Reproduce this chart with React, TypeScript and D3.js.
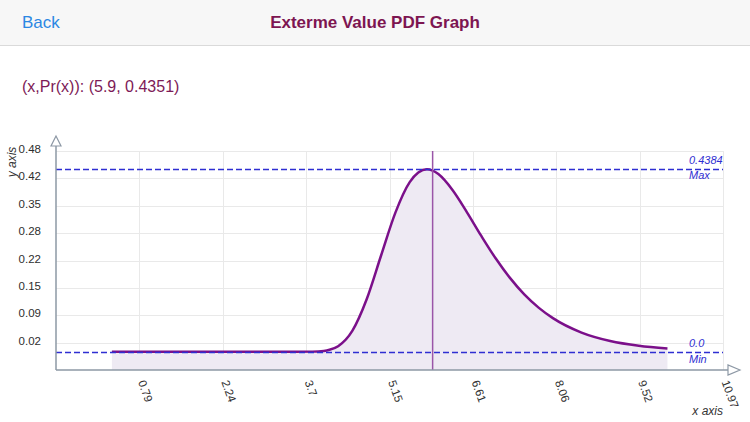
import React from "react";
import * as d3 from "d3";

// ---- data ----
const curveX = [0.3, 1.0, 2.0, 3.0, 3.5, 3.8, 4.0, 4.1, 4.25, 4.5, 4.75, 5.0, 5.25, 5.5, 5.65, 5.8, 5.9, 6.0, 6.25, 6.5, 6.75, 7.0, 7.25, 7.5, 7.75, 8.0, 8.5, 9.0, 9.5, 10.0];
const curveY = [0, 0, 0, 0, 0, 0.0003, 0.002, 0.0047, 0.0134, 0.0508, 0.1268, 0.2312, 0.3343, 0.4075, 0.4306, 0.4384, 0.4351, 0.4267, 0.388, 0.335, 0.2782, 0.2245, 0.1774, 0.1378, 0.106, 0.0807, 0.046, 0.0258, 0.0144, 0.008];

const xTickLabels = ["0.79", "2.24", "3.7", "5.15", "6.61", "8.06", "9.52", "10.97"];
const xTickValues = [0.78, 2.235, 3.69, 5.147, 6.603, 8.059, 9.514, 10.97];
const yTickLabels = ["0.02", "0.09", "0.15", "0.22", "0.28", "0.35", "0.42", "0.48"];
const yTickValues = [0.0219, 0.0877, 0.1535, 0.2192, 0.285, 0.3507, 0.4165, 0.4822];

const xDomain = [-0.676, 10.97];
const yDomain = [-0.04384, 0.48224];

const cursorX = 5.9;
const cursorY = 0.4351;
const maxValue = 0.4384;
const minValue = 0.0;
const maxLabel = "0.4384";
const minLabel = "0.0";

const title = "Exterme Value PDF Graph";
const backLabel = "Back";

// ---- layout ----
const W = 750;
const H = 422;
const L = 56, R = 723, T = 151, B = 370;
const FONT = "'Liberation Sans', Arial, Helvetica, sans-serif";
const AXIS = "#8d98a5";
const GRID = "#e9e9e9";
const DASH = "#2f2fd2";
const crisp = (v: number) => Math.round(v) + 0.5;

export default function App() {
  const x = d3.scaleLinear().domain(xDomain).range([L, R]);
  const y = d3.scaleLinear().domain(yDomain).range([B, T]);
  const pts: [number, number][] = curveX.map((v, i) => [v, curveY[i]]);

  const line = d3
    .line<[number, number]>()
    .x((d) => x(d[0]))
    .y((d) => y(d[1]))
    .curve(d3.curveMonotoneX);
  const area = d3
    .area<[number, number]>()
    .x((d) => x(d[0]))
    .y0(B)
    .y1((d) => y(d[1]))
    .curve(d3.curveMonotoneX);

  const yMax = crisp(y(maxValue));
  const yMin = crisp(y(minValue));
  const cx = x(cursorX);

  return (
    <svg
      width={W}
      height={H}
      style={{ position: "absolute", left: 0, top: 0, background: "#fff" }}
      fontFamily={FONT}
    >
      {/* header */}
      <rect x={0} y={0} width={W} height={45} fill="#f7f7f7" />
      <line x1={0} x2={W} y1={45.5} y2={45.5} stroke="#dadada" />
      <text x={22} y={28} fontSize={17} fill="#2b87e3">{backLabel}</text>
      <text x={W / 2} y={28} fontSize={17} fontWeight="bold" fill="#7d1551" textAnchor="middle">{title}</text>

      <text x={22} y={92} fontSize={16} fill="#7d1a57">
        {`(x,Pr(x)): (${cursorX}, ${cursorY})`}
      </text>

      {/* grid */}
      {xTickValues.map((v, i) => (
        <line key={"gx" + i} x1={crisp(x(v))} x2={crisp(x(v))} y1={T} y2={B} stroke={GRID} strokeWidth={1} />
      ))}
      {yTickValues.map((v, i) => (
        <line key={"gy" + i} x1={L} x2={R} y1={crisp(y(v))} y2={crisp(y(v))} stroke={GRID} strokeWidth={1} />
      ))}

      {/* area + curve */}
      <path d={area(pts) || ""} fill="#eeeaf3" />
      <path d={line(pts) || ""} fill="none" stroke="#7b108a" strokeWidth={2.5} />

      {/* min / max dashed lines */}
      <line x1={L} x2={R} y1={yMax} y2={yMax} stroke={DASH} strokeWidth={1.3} strokeDasharray="6,3" />
      <line x1={L} x2={R} y1={yMin} y2={yMin} stroke={DASH} strokeWidth={1.3} strokeDasharray="6,3" />
      <text x={689} y={yMax - 6} fontSize={11} fontStyle="italic" fill={DASH}>{maxLabel}</text>
      <text x={689} y={yMax + 9.5} fontSize={11} fontStyle="italic" fill={DASH}>Max</text>
      <text x={689} y={yMin - 6} fontSize={11} fontStyle="italic" fill={DASH}>{minLabel}</text>
      <text x={689} y={yMin + 10} fontSize={11} fontStyle="italic" fill={DASH}>Min</text>

      {/* cursor line */}
      <line x1={cx} x2={cx} y1={T} y2={B} stroke="#9a55a8" strokeWidth={1.5} />

      {/* axes */}
      <line x1={L} x2={L} y1={B} y2={146} stroke={AXIS} strokeWidth={1.5} />
      <path d={`M${L},136 L${L - 5},146 L${L + 5},146 Z`} fill="#fff" stroke={AXIS} strokeWidth={1.2} />
      <line x1={L} x2={728} y1={B} y2={B} stroke={AXIS} strokeWidth={1.5} />
      <path d={`M740,${B} L728,${B - 5} L728,${B + 5} Z`} fill="#fff" stroke={AXIS} strokeWidth={1.2} />

      {/* y tick labels */}
      {yTickValues.map((v, i) => (
        <text key={"ty" + i} x={41} y={y(v) - 1} fontSize={11.5} fill="#2e2e2e" textAnchor="end" dominantBaseline="middle">
          {yTickLabels[i]}
        </text>
      ))}
      {/* x tick labels */}
      {xTickValues.map((v, i) => (
        <text
          key={"tx" + i}
          transform={`translate(${x(v) - 1.5},${382}) rotate(70)`}
          fontSize={11.5}
          fill="#2e2e2e"
        >
          {xTickLabels[i]}
        </text>
      ))}

      {/* axis titles */}
      <text transform={`translate(16,162) rotate(-90)`} fontSize={12} fontStyle="italic" fill="#333" textAnchor="middle">y axis</text>
      <text x={723} y={415} fontSize={12} fontStyle="italic" fill="#333" textAnchor="end">x axis</text>
    </svg>
  );
}
